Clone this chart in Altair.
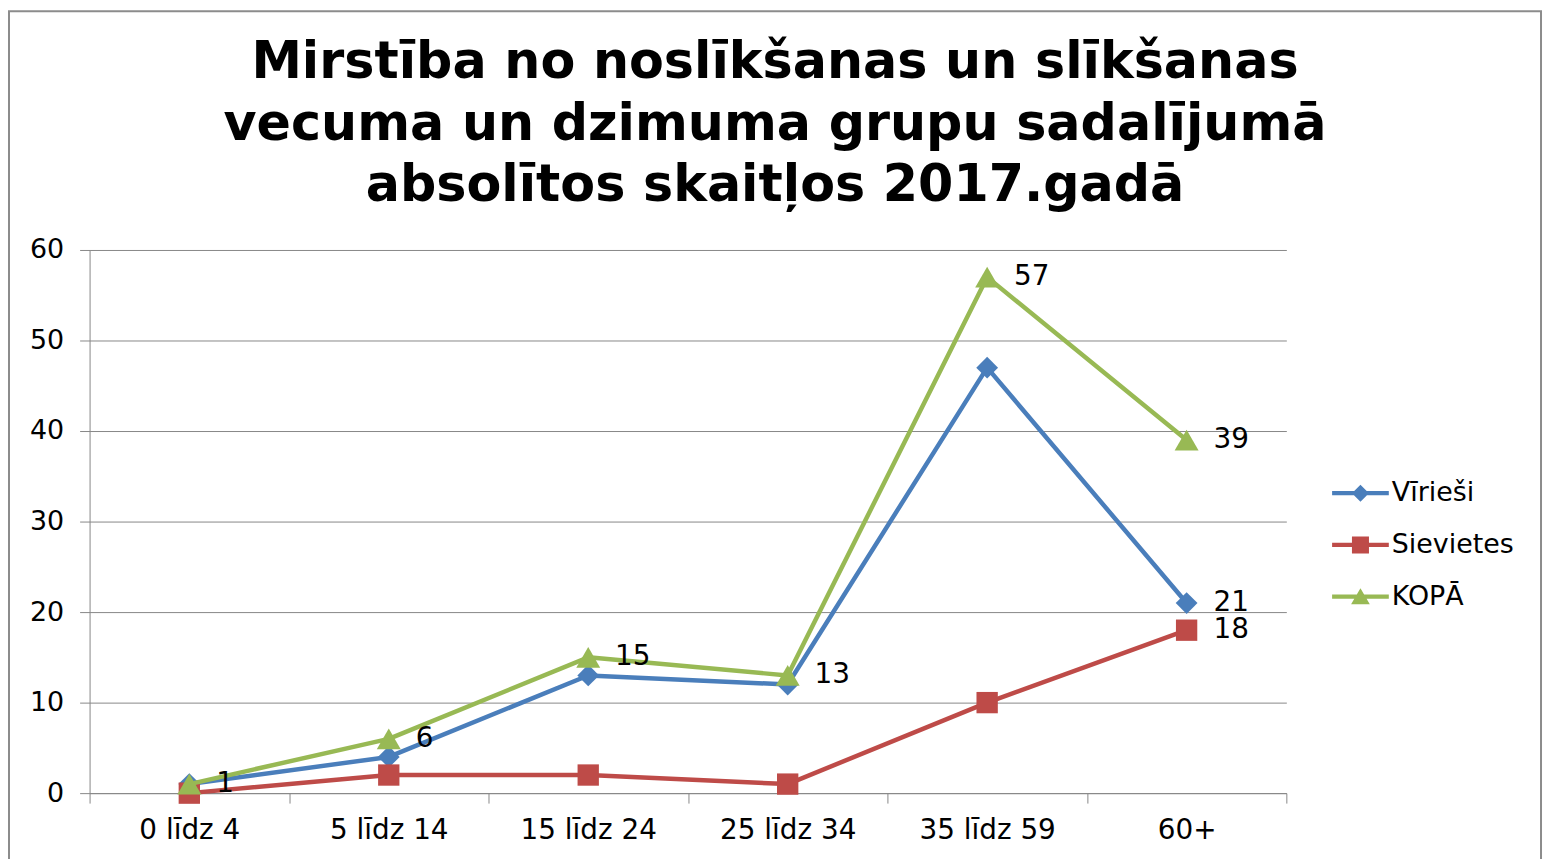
import altair as alt
import pandas as pd

categories = ["0 līdz 4", "5 līdz 14", "15 līdz 24", "25 līdz 34", "35 līdz 59", "60+"]
series_names = ["Vīrieši", "Sievietes", "KOPĀ"]
virieshi = [1, 4, 13, 12, 47, 21]
sievietes = [0, 2, 2, 1, 10, 18]
kopa = [1, 6, 15, 13, 57, 39]
# which points carry a value label
label_virieshi = [False, False, False, False, False, True]
label_sievietes = [False, False, False, False, False, True]
label_kopa = [True, True, True, True, True, True]

title_lines = [
    "Mirstība no noslīkšanas un slīkšanas",
    "vecuma un dzimuma grupu sadalījumā",
    "absolītos skaitļos 2017.gadā",
]

colors = ["#4a7ebb", "#be4b48", "#98b954"]
marker_shapes = ["diamond", "square", "triangle-up"]
marker_sizes = [480, 460, 580]

bar = "M-1,-0.075H1V0.075H-1Z"
legend_paths = [
    bar + "M-0.3,0L0,-0.3L0.3,0L0,0.3Z",
    bar + "M-0.3,-0.3H0.3V0.3H-0.3Z",
    bar + "M0,-0.3L0.33,0.27H-0.33Z",
]

values = [virieshi, sievietes, kopa]
flags = [label_virieshi, label_sievietes, label_kopa]
rows = []
for si, name in enumerate(series_names):
    for ci, cat in enumerate(categories):
        rows.append({"cat": cat, "series": name, "value": values[si][ci],
                     "show": flags[si][ci], "idx": si})
df = pd.DataFrame(rows)

W, H = 1203, 546
PAD_L, PAD_T, PAD_R, PAD_B = 82, 241, 259, 70
FONT = "DejaVu Sans"

x_enc = alt.X("cat:N", sort=categories,
              scale=alt.Scale(type="band", paddingInner=0, paddingOuter=0),
              axis=alt.Axis(title=None, labelAngle=0, tickBand="extent", tickSize=10,
                            labelFontSize=28, labelFont=FONT, labelColor="black",
                            labelPadding=14, domainColor="#878787", tickColor="#878787",
                            grid=False))
y_enc = alt.Y("value:Q", scale=alt.Scale(domain=[0, 60], nice=False),
              axis=alt.Axis(title=None, values=list(range(0, 61, 10)), tickSize=10,
                            labelFontSize=27, labelFont=FONT, labelColor="black",
                            labelPadding=16, domainColor="#878787", tickColor="#878787",
                            grid=True, gridColor="#878787", gridWidth=1))

base = alt.Chart(df)

frame = alt.Chart(pd.DataFrame({"a": [0]})).mark_rect(
    fill="transparent", stroke="#8c8c8c", strokeWidth=2
).encode(x=alt.value(-81), x2=alt.value(W + 256), y=alt.value(-240), y2=alt.value(H + 90))

title_text = alt.Chart(pd.DataFrame({"a": [0]})).mark_text(
    text=title_lines, fontSize=51, fontWeight="bold", font=FONT, color="black",
    align="center", baseline="middle", lineHeight=62
).encode(x=alt.value(689), y=alt.value(-188))

layers = [frame, title_text]
for si, name in enumerate(series_names):
    sub = base.transform_filter(alt.datum.series == name)
    layers.append(sub.mark_line(strokeWidth=4.5, color=colors[si], strokeJoin="round").encode(x=x_enc, y=y_enc))
    layers.append(sub.mark_point(filled=True, opacity=1, shape=marker_shapes[si], size=marker_sizes[si],
                                 color=colors[si]).encode(x=x_enc, y=y_enc))

labels = base.transform_filter(alt.datum.show).mark_text(
    align="left", baseline="middle", dx=27, fontSize=28, font=FONT, color="black"
).encode(x=x_enc, y=y_enc, text="value:Q")
layers.append(labels)

legend_helper = base.transform_filter(alt.datum.cat == categories[0]).mark_point(
    filled=True, opacity=1, clip=True
).encode(
    x=alt.value(-100), y=alt.value(-100),
    color=alt.Color("series:N", sort=series_names,
                    scale=alt.Scale(domain=series_names, range=colors),
                    legend=alt.Legend(title=None)),
    shape=alt.Shape("series:N", sort=series_names,
                    scale=alt.Scale(domain=series_names, range=legend_paths),
                    legend=alt.Legend(title=None)),
)
layers.append(legend_helper)

chart = alt.layer(*layers).properties(
    width=W, height=H,
    autosize=alt.AutoSizeParams(type="none"),
    padding={"left": PAD_L, "top": PAD_T, "right": PAD_R, "bottom": PAD_B},
).configure_view(stroke=None).configure_legend(
    orient="none", legendX=1249, legendY=216, symbolSize=3249, symbolStrokeWidth=0,
    labelFontSize=27, labelFont=FONT, labelColor="black", labelOffset=3, rowPadding=10,
    symbolOpacity=1
)

chart.save("out.html", embed_options={"renderer": "svg", "actions": False})
